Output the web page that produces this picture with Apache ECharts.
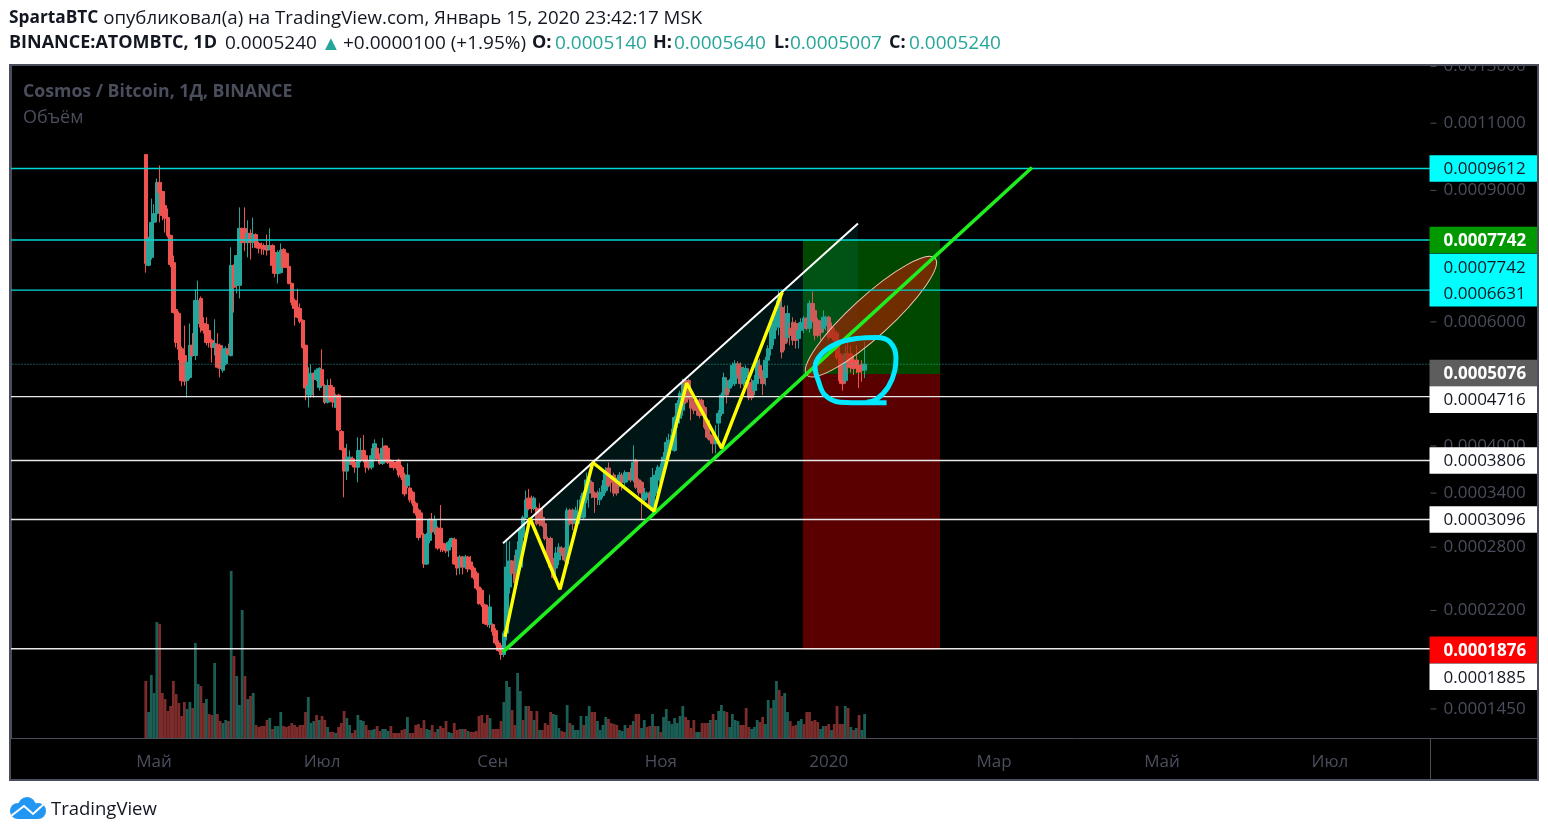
<!DOCTYPE html>
<html><head><meta charset="utf-8">
<style>html,body{margin:0;padding:0;background:#fff}#c{width:1548px;height:835px}</style>
<script src="https://cdn.jsdelivr.net/npm/echarts@6/dist/echarts.min.js"></script></head>
<body><div id="c"></div>
<script>
// All prices in units of 0.0001 BTC. One daily candle per entry, ending at mid-January 2020.
const firstCandleIndex = 49;
const opens = [
10.02,7.16,7.34,8.17,8.39,9.22,8.97,8.60,8.29,7.85,
7.22,6.24,6.16,5.51,5.39,4.97,5.02,5.57,5.39,5.97,
6.46,5.97,5.95,5.84,5.66,5.53,5.58,5.57,5.14,5.25,
5.50,5.39,7.16,6.73,6.73,8.02,8.02,7.68,7.90,7.68,
7.87,7.66,7.61,7.61,7.61,7.52,7.61,7.45,6.98,7.00,
7.52,7.43,7.14,6.77,6.42,6.28,6.26,6.03,5.57,4.74,
4.74,5.09,4.99,4.86,5.15,4.89,4.63,4.89,4.86,4.55,
4.74,4.20,3.97,3.67,3.77,3.83,3.78,3.72,3.81,3.94,
3.87,3.78,3.72,3.83,3.97,3.87,3.77,4.00,3.97,3.81,
3.78,3.78,3.81,3.72,3.62,3.49,3.46,3.41,3.28,3.20,
3.17,2.93,2.63,2.87,3.09,2.96,3.00,3.00,2.84,2.82,
2.77,2.85,2.88,2.70,2.60,2.70,2.60,2.70,2.65,2.59,
2.54,2.41,2.38,2.25,2.23,2.08,2.08,2.03,1.93,1.91,
1.84,2.01,2.41,2.66,2.66,2.54,2.60,2.90,3.12,3.34,
3.34,3.22,3.22,3.22,3.12,3.05,2.89,2.89,2.67,2.59,
2.67,2.79,2.78,2.63,3.20,3.20,3.05,3.05,3.12,3.12,
3.32,3.40,3.53,3.40,3.40,3.32,3.37,3.43,3.71,3.59,
3.62,3.56,3.53,3.62,3.53,3.56,3.65,3.56,3.81,3.56,
3.53,3.32,3.35,3.40,3.20,3.40,3.56,3.53,3.66,3.81,
3.90,4.00,3.94,4.32,4.39,4.51,4.97,4.97,4.70,4.63,
4.66,4.66,4.66,4.55,4.36,4.15,4.12,4.03,4.32,4.46,
4.74,4.86,4.85,4.92,4.92,5.25,5.19,4.92,5.02,4.94,
4.92,4.81,4.92,5.22,5.06,5.02,5.31,5.51,5.69,5.99,
5.90,6.28,5.88,5.71,5.88,5.99,5.97,5.69,5.84,5.88,
6.07,5.88,6.36,6.22,6.03,5.93,5.88,5.93,6.09,5.90,
5.80,5.79,5.42,5.25,4.97,5.42,5.42,5.31,5.31,5.22,
5.24,5.14];
const closes = [
7.20,7.77,8.17,8.39,9.22,8.94,8.34,8.27,7.85,7.18,
6.18,5.62,5.50,4.97,4.96,5.27,5.57,5.39,6.42,6.42,
5.90,5.84,5.62,5.62,5.53,5.60,5.19,5.17,5.48,5.51,
5.41,7.16,6.69,7.38,8.02,7.68,7.68,7.90,7.68,7.87,
7.57,7.55,7.55,7.52,7.50,7.61,7.16,6.98,7.45,7.50,
7.12,7.12,6.77,6.38,6.26,6.09,6.01,5.53,4.85,4.89,
5.09,4.99,5.14,5.17,4.89,4.63,4.89,4.66,4.63,4.70,
4.22,3.95,3.67,3.85,3.85,3.75,3.72,3.94,3.94,3.81,
3.72,3.71,3.87,4.03,3.83,3.77,3.97,3.81,3.78,3.72,
3.72,3.71,3.62,3.59,3.39,3.62,3.32,3.28,3.17,2.90,
2.93,2.63,2.93,3.09,2.96,3.09,2.79,2.79,2.77,2.76,
2.85,2.89,2.63,2.59,2.70,2.60,2.70,2.58,2.59,2.50,
2.40,2.26,2.25,2.09,2.08,2.23,2.02,1.93,1.87,1.84,
2.01,2.60,2.66,2.54,2.45,2.77,2.98,3.12,3.32,3.22,
3.22,3.34,3.05,3.05,3.03,2.89,2.67,2.60,2.50,2.74,
2.80,2.75,2.67,3.20,3.05,3.05,3.20,3.12,3.32,3.40,
3.56,3.56,3.40,3.35,3.35,3.41,3.49,3.65,3.49,3.53,
3.40,3.40,3.62,3.53,3.65,3.65,3.56,3.78,3.47,3.41,
3.40,3.40,3.40,3.23,3.59,3.62,3.72,3.72,3.85,4.05,
4.08,4.15,4.40,4.61,4.77,4.94,4.63,4.70,4.54,4.51,
4.51,4.43,4.51,4.26,4.12,4.08,4.03,4.11,4.46,4.74,
5.02,4.74,4.97,5.22,5.25,5.06,4.92,5.17,5.17,4.70,
4.70,4.97,5.31,5.06,4.92,5.31,5.51,5.88,5.99,6.28,
6.52,5.45,5.60,6.16,5.75,5.66,5.66,5.84,5.99,6.07,
5.88,6.36,6.03,5.75,5.75,5.80,6.09,6.09,5.71,5.75,
5.66,5.35,4.97,4.92,5.42,5.19,5.19,5.17,5.19,5.11,
5.14,5.24];
const highs = [
10.02,7.82,8.78,8.63,9.33,9.70,8.99,8.65,8.52,7.87,
7.38,6.28,6.20,5.55,5.93,5.31,5.97,5.79,6.64,6.83,
6.50,6.09,6.09,5.88,5.69,6.05,5.79,5.60,5.57,5.55,
5.60,7.57,7.18,7.38,8.55,8.04,8.55,8.22,8.00,8.29,
7.90,7.70,7.68,7.66,7.87,8.02,7.64,7.50,7.50,7.66,
7.55,7.45,7.16,6.79,6.46,6.66,6.36,6.05,5.58,5.19,
5.24,5.10,5.17,5.19,5.50,4.91,4.99,5.00,4.88,4.76,
4.76,4.22,3.98,4.03,3.94,3.86,3.81,4.12,4.11,4.15,
3.90,3.81,3.97,4.09,4.00,3.90,4.11,4.01,3.98,3.82,
3.81,3.81,3.83,3.75,3.65,3.77,3.48,3.43,3.30,3.22,
3.20,2.95,2.95,3.11,3.17,3.14,3.02,3.26,2.86,2.84,
2.87,2.90,2.90,2.72,2.72,2.71,2.72,2.71,2.71,2.61,
2.56,2.43,2.40,2.26,2.25,2.34,2.09,2.05,1.95,1.93,
2.03,2.86,2.86,2.67,2.72,2.86,3.02,3.14,3.43,3.45,
3.37,3.36,3.24,3.28,3.23,3.07,2.91,2.91,2.69,2.80,
2.84,2.81,2.80,3.23,3.22,3.22,3.24,3.32,3.37,3.43,
3.65,3.62,3.55,3.42,3.43,3.46,3.56,3.72,3.78,3.62,
3.65,3.59,3.66,3.65,3.68,3.66,3.71,4.01,3.83,3.58,
3.55,3.46,3.42,3.42,3.71,3.68,3.75,3.77,3.92,4.12,
4.17,4.24,4.43,4.66,4.81,5.00,5.00,5.00,4.74,4.66,
4.69,4.69,4.69,4.58,4.39,4.17,4.15,4.29,4.51,4.78,
5.10,5.02,5.00,5.27,5.31,5.29,5.27,5.20,5.22,5.17,
5.00,5.06,5.36,5.34,5.14,5.37,5.57,5.93,6.07,6.42,
6.62,6.58,6.32,6.32,5.99,6.09,6.03,5.99,6.07,6.11,
6.09,6.42,6.60,6.26,6.07,6.03,6.22,6.12,6.12,5.99,
5.88,5.84,5.66,5.39,5.57,5.62,5.57,5.39,5.57,5.31,
5.31,5.64];
const lows = [
7.00,7.14,7.29,8.14,8.17,8.17,8.22,7.92,7.80,7.12,
6.16,5.53,5.31,4.88,4.89,4.70,4.99,5.37,5.31,5.93,
5.80,5.78,5.57,5.53,5.27,5.39,5.17,5.02,5.10,5.22,
5.39,5.37,6.18,6.56,6.46,7.66,7.48,7.34,7.29,7.55,
7.55,7.43,7.40,7.40,7.38,7.50,6.98,6.90,6.77,6.98,
7.10,7.10,6.75,6.32,5.93,6.07,5.97,5.51,4.66,4.55,
4.70,4.70,4.96,4.81,4.88,4.60,4.61,4.63,4.55,4.54,
4.20,3.94,3.35,3.56,3.75,3.72,3.65,3.53,3.78,3.78,
3.65,3.68,3.69,3.81,3.81,3.75,3.75,3.78,3.76,3.71,
3.68,3.68,3.59,3.56,3.36,3.46,3.29,3.25,3.14,2.87,
2.90,2.59,2.62,2.84,2.94,2.93,2.77,2.75,2.75,2.74,
2.70,2.80,2.62,2.52,2.53,2.53,2.58,2.55,2.57,2.48,
2.38,2.25,2.23,2.08,2.06,2.05,1.99,1.91,1.86,1.80,
1.82,1.95,2.35,2.52,2.41,2.43,2.57,2.87,3.09,3.20,
3.17,3.20,3.03,3.02,3.01,2.87,2.65,2.57,2.48,2.52,
2.62,2.71,2.65,2.61,3.03,2.98,3.03,3.03,3.09,3.09,
3.28,3.23,3.34,3.17,3.26,3.26,3.34,3.40,3.47,3.41,
3.36,3.37,3.47,3.43,3.49,3.53,3.53,3.53,3.45,3.37,
3.09,3.26,3.32,3.21,3.14,3.36,3.53,3.46,3.62,3.77,
3.86,3.94,3.92,4.25,4.36,4.43,4.60,4.67,4.36,4.45,
4.43,4.39,4.46,4.23,4.09,4.03,3.90,3.90,4.01,4.42,
4.69,4.61,4.78,4.88,4.88,5.00,4.85,4.88,4.97,4.66,
4.66,4.74,4.88,5.00,4.74,4.89,5.19,5.39,5.57,5.84,
5.75,5.34,5.48,5.62,5.57,5.57,5.51,5.51,5.75,5.79,
5.84,5.80,5.99,5.66,5.71,5.66,5.80,5.84,5.66,5.69,
5.60,5.31,4.92,4.81,4.92,5.10,5.10,5.06,5.09,4.85,
4.95,5.01];
const volumes = [
57,26,63,45,116,114,45,39,27,32,
57,44,35,22,36,29,36,30,95,54,
52,35,39,24,23,75,24,17,15,18,
17,167,82,62,33,128,62,39,42,45,
13,11,12,12,18,20,9,12,12,26,
12,11,12,15,13,11,13,13,26,41,
15,17,23,18,22,18,11,6,6,5,
11,15,27,20,13,5,8,23,18,17,
13,8,8,9,12,7,9,9,7,12,
5,5,5,8,9,21,5,5,13,14,
10,18,9,8,13,6,9,12,10,17,
6,5,15,8,9,9,9,7,6,6,
7,22,23,15,23,20,9,9,9,17,
36,57,51,28,13,65,47,18,32,32,
27,18,27,8,8,15,13,26,24,23,
10,7,6,33,15,13,8,8,22,13,
22,32,26,26,17,8,13,21,19,15,
14,13,8,7,13,10,13,17,24,24,
10,18,11,12,24,12,12,6,21,29,
17,14,20,15,22,32,21,18,10,18,
6,6,15,15,15,18,24,18,27,33,
27,26,11,24,18,17,13,13,30,11,
9,11,18,16,21,14,38,30,38,57,
48,42,45,26,17,12,13,17,19,14,
26,26,17,18,16,9,12,12,14,8,
14,32,14,14,32,30,11,8,10,23,
8,24];
const volumeDirs = "rttttrrrrr"+"rrrrrttrtt"+"rrtrrtrrtt"+"rtrtttrtrt"+"rrrrrtrttt"+"rrrrrrrrrt"+"ttrtrrtrrt"+"rrrttrrttt"+"rrttrrtttr"+"rrrrrtrrrr"+"rrttrrtrrr"+"ttrrrtrtrr"+"rrrrrtrrrr"+"tttrrttrtr"+"rtrtrrrrtt"+"trrtrttttr"+"ttrrttttrr"+"rrtttrrtrr"+"ttrrtrtrtt"+"ttttttrrrr"+"ttrrrtrttt"+"trttttrrrr"+"tttrrttrtt"+"rrttrrrttr"+"rrrrrttrrt"+"rrrrtrtrtr"+"tt";

// Axis ticks
const priceTicks = [13, 11, 9, 6, 4, 3.4, 2.8, 2.2, 1.45];
const timeTickDates = ["2019-05-01","2019-07-01","2019-09-01","2019-11-01","2020-01-01","2020-03-01","2020-05-01","2020-07-01"];
const timeTickLabels = ["Май","Июл","Сен","Ноя","2020","Мар","Май","Июл"];

// Header quote line
const quoteTexts = ["BINANCE:ATOMBTC, 1D","0.0005240","▲","+0.0000100 (+1.95%)","O:","0.0005140","H:","0.0005640","L:","0.0005007","C:","0.0005240"];
const quoteKinds = ["b","n","t","n","b","g","b","g","b","g","b","g"];
const quoteLefts = [9,225,321,343,532,555,653,674,774,790,889,909];

// Horizontal levels
const cyanLevels = [9.612, 7.742, 6.631];
const whiteLevels = [4.716, 3.806, 3.096, 1.885];
const lastPrice = 5.24;

// Drawings: day index and price
const supportDays = [178.7, 370.8];
const supportPrices = [1.86, 9.64];
const resistDays = [178.7, 307.6];
const resistPrices = [2.84, 8.14];
const channelBottomAtEnd = 5.91;
const zigzagDays = [179.4, 188.5, 199.4, 211.3, 233.6, 245.4, 258.1, 280.1];
const zigzagPrices = [1.98, 3.11, 2.39, 3.78, 3.19, 4.93, 3.97, 6.59];
const boxDays = [287.6, 337.4];
const boxPrices = {target: 7.742, entry: 5.076, stop: 1.876};
const ellipseDays = [289, 335.6];
const ellipsePrices = [5.06, 7.32];
const loopDays = [318.0,310.8,301.1,295.6,293.2,292,294.4,299.9,307.1,314.4,319.2,321.4,321,318.6,314.4,310.8];
const loopPrices = [4.62,4.62,4.63,4.74,4.97,5.19,5.42,5.60,5.69,5.71,5.63,5.36,5.14,4.87,4.68,4.63];

// Price tags on the right scale
const tagPrices = [9.612, 7.742, 7.742, 6.631, 5.076, 4.716, 3.806, 3.096, 1.876, 1.885];
const tagTexts = ["0.0009612","0.0007742","0.0007742","0.0006631","0.0005076","0.0004716","0.0003806","0.0003096","0.0001876","0.0001885"];
const tagFills = ["#00ffff","#009900","#00ffff","#00ffff","#5d5d5d","#ffffff","#ffffff","#ffffff","#ff0000","#ffffff"];
const tagInks = ["#131722","#ffffff","#131722","#131722","#ffffff","#131722","#131722","#131722","#ffffff","#131722"];
const tagShift = [0,0,27,3,-1,3,0,0,0,28];

// Chart's price scale: logarithmic with a shift of 0.0001
const scaleOf = v => Math.log(v + 1);
const priceOf = t => Math.exp(t) - 1;
const dayCount = 516;
const firstDay = Date.UTC(2019, 2, 10);
const categories = Array.from({length: dayCount}, (_, i) => new Date(firstDay + i * 864e5).toISOString().slice(0, 10));

const FONT = '"Open Sans", sans-serif';
const AXIS = '#4a4e5c';
const INK = '#131722';
const TEAL = '#26a69a';
const zip = (xs, ys) => xs.map((x, i) => [x, scaleOf(ys[i])]);
const lineSeries = (name, data, color, width, z, extra) => Object.assign({
  type: 'line', name, xAxisIndex: 1, yAxisIndex: 0, data, showSymbol: false, silent: true, z,
  lineStyle: {color, width}, animation: false
}, extra || {});
const customSeries = (name, z, renderItem, data) => ({
  type: 'custom', name, xAxisIndex: 1, yAxisIndex: 0, z, silent: true, renderItem, data: data || [0], animation: false
});
const poly = (api, pts, style) => ({type: 'polygon', shape: {points: pts.map(p => api.coord(p))}, style});

const series = [
  {type: 'bar', name: 'Объём', xAxisIndex: 0, yAxisIndex: 1, z: 1, barWidth: 2.8, silent: true,
   data: volumes.map((v, i) => ({value: [firstCandleIndex + i, v], itemStyle: {color: volumeDirs[i] === 't' ? '#1a5e55' : '#7c2c2b'}}))},
  customSeries('box', 2, (p, api) => {
    const tT = scaleOf(boxPrices.target), tE = scaleOf(boxPrices.entry), tS = scaleOf(boxPrices.stop);
    const [a, b] = boxDays;
    return {type: 'group', children: [
      poly(api, [[a, tT], [b, tT], [b, tE], [a, tE]], {fill: '#004800'}),
      poly(api, [[a, tE], [b, tE], [b, tS], [a, tS]], {fill: '#5a0000'})
    ]};
  }),
  {type: 'candlestick', name: 'ATOMBTC', xAxisIndex: 0, yAxisIndex: 0, z: 3, barWidth: 4, silent: true,
   encode: {x: 0, y: [1, 2, 3, 4]},
   itemStyle: {color: TEAL, color0: '#ef5350', borderColor: TEAL, borderColor0: '#ef5350', borderWidth: 1},
   data: opens.map((o, i) => [firstCandleIndex + i, scaleOf(o), scaleOf(closes[i]), scaleOf(lows[i]), scaleOf(highs[i])])},
  customSeries('channel', 4, (p, api) => poly(api, [
    [resistDays[0], scaleOf(resistPrices[0])], [resistDays[1], scaleOf(resistPrices[1])],
    [resistDays[1], scaleOf(channelBottomAtEnd)], [supportDays[0], scaleOf(supportPrices[0])]
  ], {fill: 'rgba(0,150,150,0.14)'})),
  ...cyanLevels.map((v, i) => lineSeries('cyan' + i, [[-0.5, scaleOf(v)], [515.5, scaleOf(v)]], '#00d8d8', 1.4, 5)),
  ...whiteLevels.map((v, i) => lineSeries('white' + i, [[-0.5, scaleOf(v)], [515.5, scaleOf(v)]], '#e8e8e8', 1.4, 5)),
  lineSeries('last', [[-0.5, scaleOf(lastPrice)], [515.5, scaleOf(lastPrice)]], TEAL, 1, 4, {lineStyle: {color: TEAL, width: 1, type: [1, 2]}}),
  customSeries('ellipse', 5, (p, api) => {
    const a = api.coord([ellipseDays[0], scaleOf(ellipsePrices[0])]);
    const b = api.coord([ellipseDays[1], scaleOf(ellipsePrices[1])]);
    return {type: 'ellipse', x: (a[0] + b[0]) / 2, y: (a[1] + b[1]) / 2,
      rotation: -Math.atan2(b[1] - a[1], b[0] - a[0]),
      shape: {cx: 0, cy: 0, rx: Math.hypot(b[0] - a[0], b[1] - a[1]) / 2, ry: 20},
      style: {fill: 'rgba(170,30,0,0.65)', stroke: '#e8c8b8', lineWidth: 1}};
  }),
  lineSeries('resistance', zip(resistDays, resistPrices), '#ffffff', 2, 6),
  lineSeries('support', zip(supportDays, supportPrices), '#1fee1f', 3.6, 6),
  lineSeries('zigzag', zip(zigzagDays, zigzagPrices), '#ffff00', 3.4, 7),
  lineSeries('loop', zip(loopDays, loopPrices), '#00e8ff', 5, 8, {smooth: 0.4}),
  customSeries('priceTicks', 19, (p, api) => {
    const c = api.coord([515.5, scaleOf(priceTicks[api.value(0)])]);
    return {type: 'line', shape: {x1: c[0], y1: c[1], x2: c[0] + 6, y2: c[1]}, style: {stroke: AXIS, lineWidth: 1}};
  }, priceTicks.map((_, i) => [i])),
  customSeries('tags', 20, (p, api) => {
    const i = api.value(0);
    const y = api.coord([515.5, scaleOf(tagPrices[i])])[1] + tagShift[i];
    const x = api.coord([515.5, scaleOf(tagPrices[i])])[0];
    const bold = tagInks[i] === '#ffffff';
    return {type: 'group', children: [
      {type: 'rect', shape: {x: x - 1, y: y - 13.3, width: 108, height: 26.6}, style: {fill: tagFills[i]}},
      {type: 'text', x: x + 13, y: y + 1, style: {text: tagTexts[i], fill: tagInks[i], font: (bold ? '700 ' : '') + '17px ' + FONT, textAlign: 'left', textVerticalAlign: 'middle'}}
    ]};
  }, tagPrices.map((_, i) => [i]))
];

const quoteStyle = {
  b: {fontSize: 18, fontWeight: 700, color: INK},
  n: {fontSize: 19, fontWeight: 400, color: INK},
  g: {fontSize: 19, fontWeight: 400, color: TEAL},
  t: {fontSize: 20, fontWeight: 400, color: TEAL}
};
const chart = echarts.init(document.getElementById('c'), null, {renderer: 'canvas', width: 1548, height: 835});
chart.setOption({
  animation: false,
  backgroundColor: '#ffffff',
  textStyle: {fontFamily: FONT},
  title: [
    {left: 9, top: 9, padding: 0, text: '{b|SpartaBTC} опубликовал(а) на TradingView.com, Январь 15, 2020 23:42:17 MSK',
     textStyle: {fontFamily: FONT, fontSize: 18.7, fontWeight: 400, color: INK, rich: {b: {fontFamily: FONT, fontSize: 17.3, fontWeight: 700, color: INK}}}},
    ...quoteTexts.map((t, i) => ({left: quoteLefts[i], top: 34, padding: 0, text: t,
      textStyle: Object.assign({fontFamily: FONT}, quoteStyle[quoteKinds[i]])})),
    {left: 23, top: 83, padding: 0, text: 'Cosmos / Bitcoin, 1Д, BINANCE', textStyle: {fontFamily: FONT, fontSize: 17.7, fontWeight: 700, color: AXIS}},
    {left: 23, top: 109, padding: 0, text: 'Объём', textStyle: {fontFamily: FONT, fontSize: 18, fontWeight: 400, color: AXIS}}
  ],
  grid: {left: 9.5, top: 66, width: 1421, height: 672, containLabel: false},
  xAxis: [
    {type: 'category', data: categories, boundaryGap: true, position: 'bottom',
     axisLine: {lineStyle: {color: AXIS, width: 1}},
     axisTick: {alignWithLabel: true, length: 5, lineStyle: {color: AXIS}, interval: (i, v) => timeTickDates.includes(v)},
     axisLabel: {color: AXIS, fontSize: 17, fontFamily: FONT, margin: 16, interval: (i, v) => timeTickDates.includes(v),
       formatter: v => timeTickLabels[timeTickDates.indexOf(v)] || ''},
     splitLine: {show: false}},
    {type: 'value', min: -0.5, max: 515.5, show: false}
  ],
  yAxis: [
    {type: 'value', position: 'right', min: 0.8173, max: 2.64, scale: true,
     axisLine: {show: true, lineStyle: {color: AXIS, width: 1}},
     axisTick: {show: false},
     axisLabel: {color: AXIS, fontSize: 17, fontFamily: FONT, margin: 13, padding: [6, 0, 0, 0], customValues: priceTicks.map(scaleOf),
       showMinLabel: true, showMaxLabel: true, hideOverlap: false,
       formatter: t => (priceOf(t) * 1e-4).toFixed(7)},
     splitLine: {show: false}},
    {type: 'value', min: 0, max: 672, show: false}
  ],
  series,
  graphic: [
    {type: 'rect', z: -10, shape: {x: 10, y: 65, width: 1528, height: 715}, style: {fill: '#000000'}},
    {type: 'rect', z: 50, shape: {x: 1431, y: 0, width: 117, height: 64}, style: {fill: '#ffffff'}},
    {type: 'rect', z: 60, shape: {x: 10, y: 65, width: 1528, height: 715}, style: {fill: 'none', stroke: AXIS, lineWidth: 2}},
    {type: 'line', z: 60, shape: {x1: 1430.5, y1: 738, x2: 1430.5, y2: 780}, style: {stroke: AXIS, lineWidth: 1}},
    {type: 'line', z: 60, shape: {x1: 1430, y1: 738.5, x2: 1538, y2: 738.5}, style: {stroke: AXIS, lineWidth: 1}},
    {type: 'circle', z: 60, shape: {cx: 18, cy: 811, r: 8}, style: {fill: '#2196f3'}},
    {type: 'circle', z: 60, shape: {cx: 27, cy: 806, r: 9}, style: {fill: '#2196f3'}},
    {type: 'circle', z: 60, shape: {cx: 38, cy: 811, r: 8}, style: {fill: '#2196f3'}},
    {type: 'rect', z: 60, shape: {x: 18, y: 809, width: 20, height: 10}, style: {fill: '#2196f3'}},
    {type: 'polyline', z: 61, shape: {points: [[11, 816], [24, 806], [33, 814], [44, 804]]}, style: {fill: 'none', stroke: '#ffffff', lineWidth: 2}},
    {type: 'text', z: 60, x: 51, y: 810, style: {text: 'TradingView', fill: INK, font: '18.5px ' + FONT, textVerticalAlign: 'middle'}}
  ]
});
</script></body></html>
